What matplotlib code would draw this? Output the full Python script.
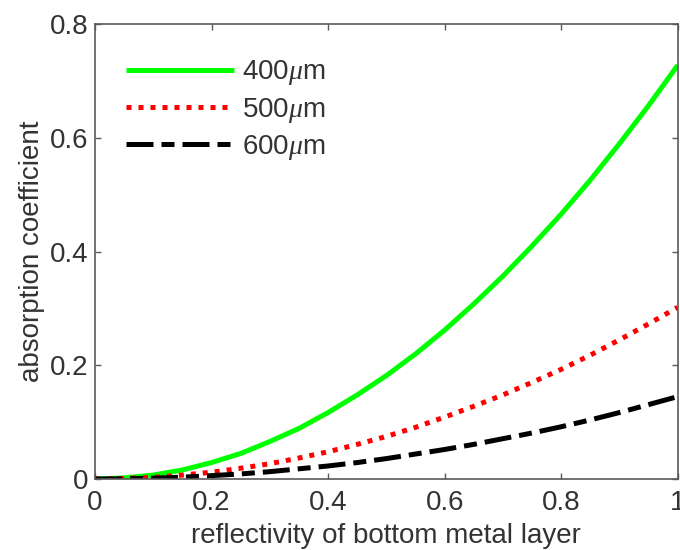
import matplotlib
matplotlib.use("Agg")
import matplotlib.pyplot as plt
from matplotlib.ticker import FuncFormatter

plt.rcParams['font.family'] = ['Liberation Sans', 'DejaVu Sans']
plt.rcParams['mathtext.fontset'] = 'custom'
plt.rcParams['mathtext.it'] = 'Liberation Serif:italic'

# values
reflectivity = [0.0, 0.05, 0.1, 0.15, 0.2, 0.25, 0.3, 0.35, 0.4, 0.45, 0.5,
                0.55, 0.6, 0.65, 0.7, 0.75, 0.8, 0.85, 0.9, 0.95, 1.0]
abs_400 = [0.0, 0.002, 0.007, 0.016, 0.029, 0.045, 0.066, 0.089, 0.117, 0.148, 0.182,
           0.220, 0.262, 0.308, 0.357, 0.410, 0.466, 0.526, 0.590, 0.657, 0.728]
abs_500 = [0.0, 0.001, 0.003, 0.007, 0.012, 0.019, 0.027, 0.037, 0.048, 0.061, 0.075,
           0.091, 0.109, 0.128, 0.148, 0.170, 0.193, 0.218, 0.245, 0.273, 0.302]
abs_600 = [0.0, 0.0004, 0.0015, 0.0033, 0.006, 0.009, 0.013, 0.018, 0.023, 0.029, 0.036,
           0.044, 0.052, 0.061, 0.071, 0.081, 0.092, 0.104, 0.117, 0.131, 0.145]
labels = ['400$\\mu$m', '500$\\mu$m', '600$\\mu$m']

xticks = [0, 0.2, 0.4, 0.6, 0.8, 1]
yticks = [0, 0.2, 0.4, 0.6, 0.8]

fs = 20

fig = plt.figure(figsize=(6.8, 5.5), dpi=100)
ax = fig.add_axes([0.1397, 0.129, 0.857, 0.827])

lw = 3.6
ax.plot(reflectivity, abs_400, color='#00ff00', lw=lw, label=labels[0],
        solid_capstyle='butt')
ax.plot(reflectivity, abs_500, color='#ff0000', lw=lw, label=labels[1],
        linestyle=(0, (1, 1.4)), dash_capstyle='butt')
ax.plot(reflectivity, abs_600, color='black', lw=lw, label=labels[2],
        linestyle=(0, (5.4, 1.6, 2.6, 1.6)), dash_capstyle='butt')

ax.set_xlim(0, 1)
ax.set_ylim(0, 0.8)
ax.set_xticks(xticks)
ax.set_yticks(yticks)
fmt = FuncFormatter(lambda v, p: '%g' % v)
ax.xaxis.set_major_formatter(fmt)
ax.yaxis.set_major_formatter(fmt)

spine_col = '#5a5a5a'
text_col = '#333333'
for s in ax.spines.values():
    s.set_color(spine_col)
    s.set_linewidth(1.2)
ax.tick_params(direction='in', length=4, width=1, colors=spine_col,
               labelcolor=text_col, labelsize=fs, top=True, right=True, pad=5)
ax.tick_params(axis='x', pad=8)

ax.set_xlabel('reflectivity of bottom metal layer', fontsize=fs, color=text_col, labelpad=5)
ax.set_ylabel('absorption coefficient', fontsize=fs, color=text_col, labelpad=3)

leg = ax.legend(loc='upper left', frameon=False, fontsize=fs, handlelength=3.9,
                handletextpad=0.3, labelspacing=0.3,
                bbox_to_anchor=(0.01, 0.98))
for t in leg.get_texts():
    t.set_color(text_col)

fig.savefig('out.png', dpi=100)
